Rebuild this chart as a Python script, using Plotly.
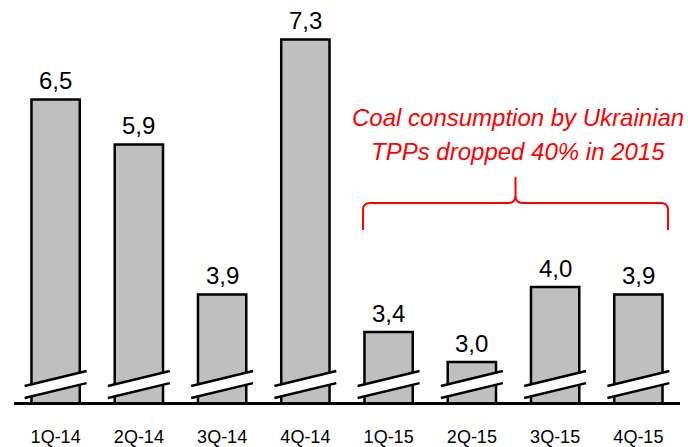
import plotly.graph_objects as go

categories = ["1Q-14", "2Q-14", "3Q-14", "4Q-14", "1Q-15", "2Q-15", "3Q-15", "4Q-15"]
values = [6.5, 5.9, 3.9, 7.3, 3.4, 3.0, 4.0, 3.9]
value_labels = [f"{v:.1f}".replace(".", ",") for v in values]
note_line1 = "Coal consumption by Ukrainian"
note_line2 = "TPPs dropped 40% in 2015"
brace_from, brace_to = 4, 7  # categories covered by the brace (1Q-15 .. 4Q-15)

FONT = "Liberation Sans, Arial, sans-serif"
xs = list(range(len(categories)))

fig = go.Figure()
fig.add_trace(go.Bar(
    x=xs, y=values, width=0.58,
    marker=dict(color="#BFBFBF", line=dict(color="black", width=2.5)),
    hoverinfo="skip",
))

shapes = []
# axis-break marks on every bar
half = 0.372
for x in xs:
    xl, xr = x - half, x + half
    lo_l, lo_r, up_l, up_r = 0.010, 0.047, 0.040, 0.077
    shapes.append(dict(type="path", xref="x", yref="paper",
                       path=f"M {xl},{lo_l} L {xr},{lo_r} L {xr},{up_r} L {xl},{up_l} Z",
                       fillcolor="white", line=dict(width=0), layer="above"))
    for a, b in ((lo_l, lo_r), (up_l, up_r)):
        shapes.append(dict(type="line", xref="x", yref="paper", x0=xl, y0=a, x1=xr, y1=b,
                           line=dict(color="black", width=2.5), layer="above"))

# red brace over 2015
L = brace_from - 0.308
R = brace_to + 0.356
M = (L + R) / 2
yb, yh, yt = 0.428, 0.495, 0.560
rx, ry = 0.085, 0.018
brace = (f"M {L},{yb} L {L},{yh-ry} Q {L},{yh} {L+rx},{yh} L {M-rx},{yh} "
         f"Q {M},{yh} {M},{yh+ry} L {M},{yt} M {M},{yh+ry} Q {M},{yh} {M+rx},{yh} "
         f"L {R-rx},{yh} Q {R},{yh} {R},{yh-ry} L {R},{yb}")
shapes.append(dict(type="path", xref="x", yref="paper", path=brace,
                   line=dict(color="#FF0000", width=2)))

annotations = [
    dict(x=x, y=v, xref="x", yref="y", text=t, showarrow=False,
         xanchor="center", yanchor="middle", yshift=19,
         font=dict(family=FONT, size=24, color="black"))
    for x, v, t in zip(xs, values, value_labels)
]
annotations += [
    dict(x=M + 0.03, y=0.7065, xref="x", yref="paper", text=f"<i>{note_line1}</i>",
         showarrow=False, xanchor="center", yanchor="middle",
         font=dict(family=FONT, size=24, color="#FF0000")),
    dict(x=M + 0.03, y=0.622, xref="x", yref="paper", text=f"<i>{note_line2}</i>",
         showarrow=False, xanchor="center", yanchor="middle",
         font=dict(family=FONT, size=24, color="#FF0000")),
]

fig.update_layout(
    width=688, height=447,
    margin=dict(l=14, r=8, t=0, b=45, autoexpand=False),
    paper_bgcolor="white", plot_bgcolor="white",
    showlegend=False,
    shapes=shapes, annotations=annotations,
    xaxis=dict(range=[-0.5, 7.5], tickvals=xs, ticktext=categories,
               showline=True, linecolor="black", linewidth=3,
               showgrid=False, zeroline=False, ticks="",
               automargin=False, ticklabelstandoff=16,
               tickfont=dict(family=FONT, size=18, color="black")),
    yaxis=dict(range=[2.467, 7.827], visible=False, showgrid=False, zeroline=False,
               automargin=False),
)

fig.write_html("out.html", config={"displayModeBar": False},
               post_script="document.body.style.margin='0';document.body.style.overflow='hidden';")
